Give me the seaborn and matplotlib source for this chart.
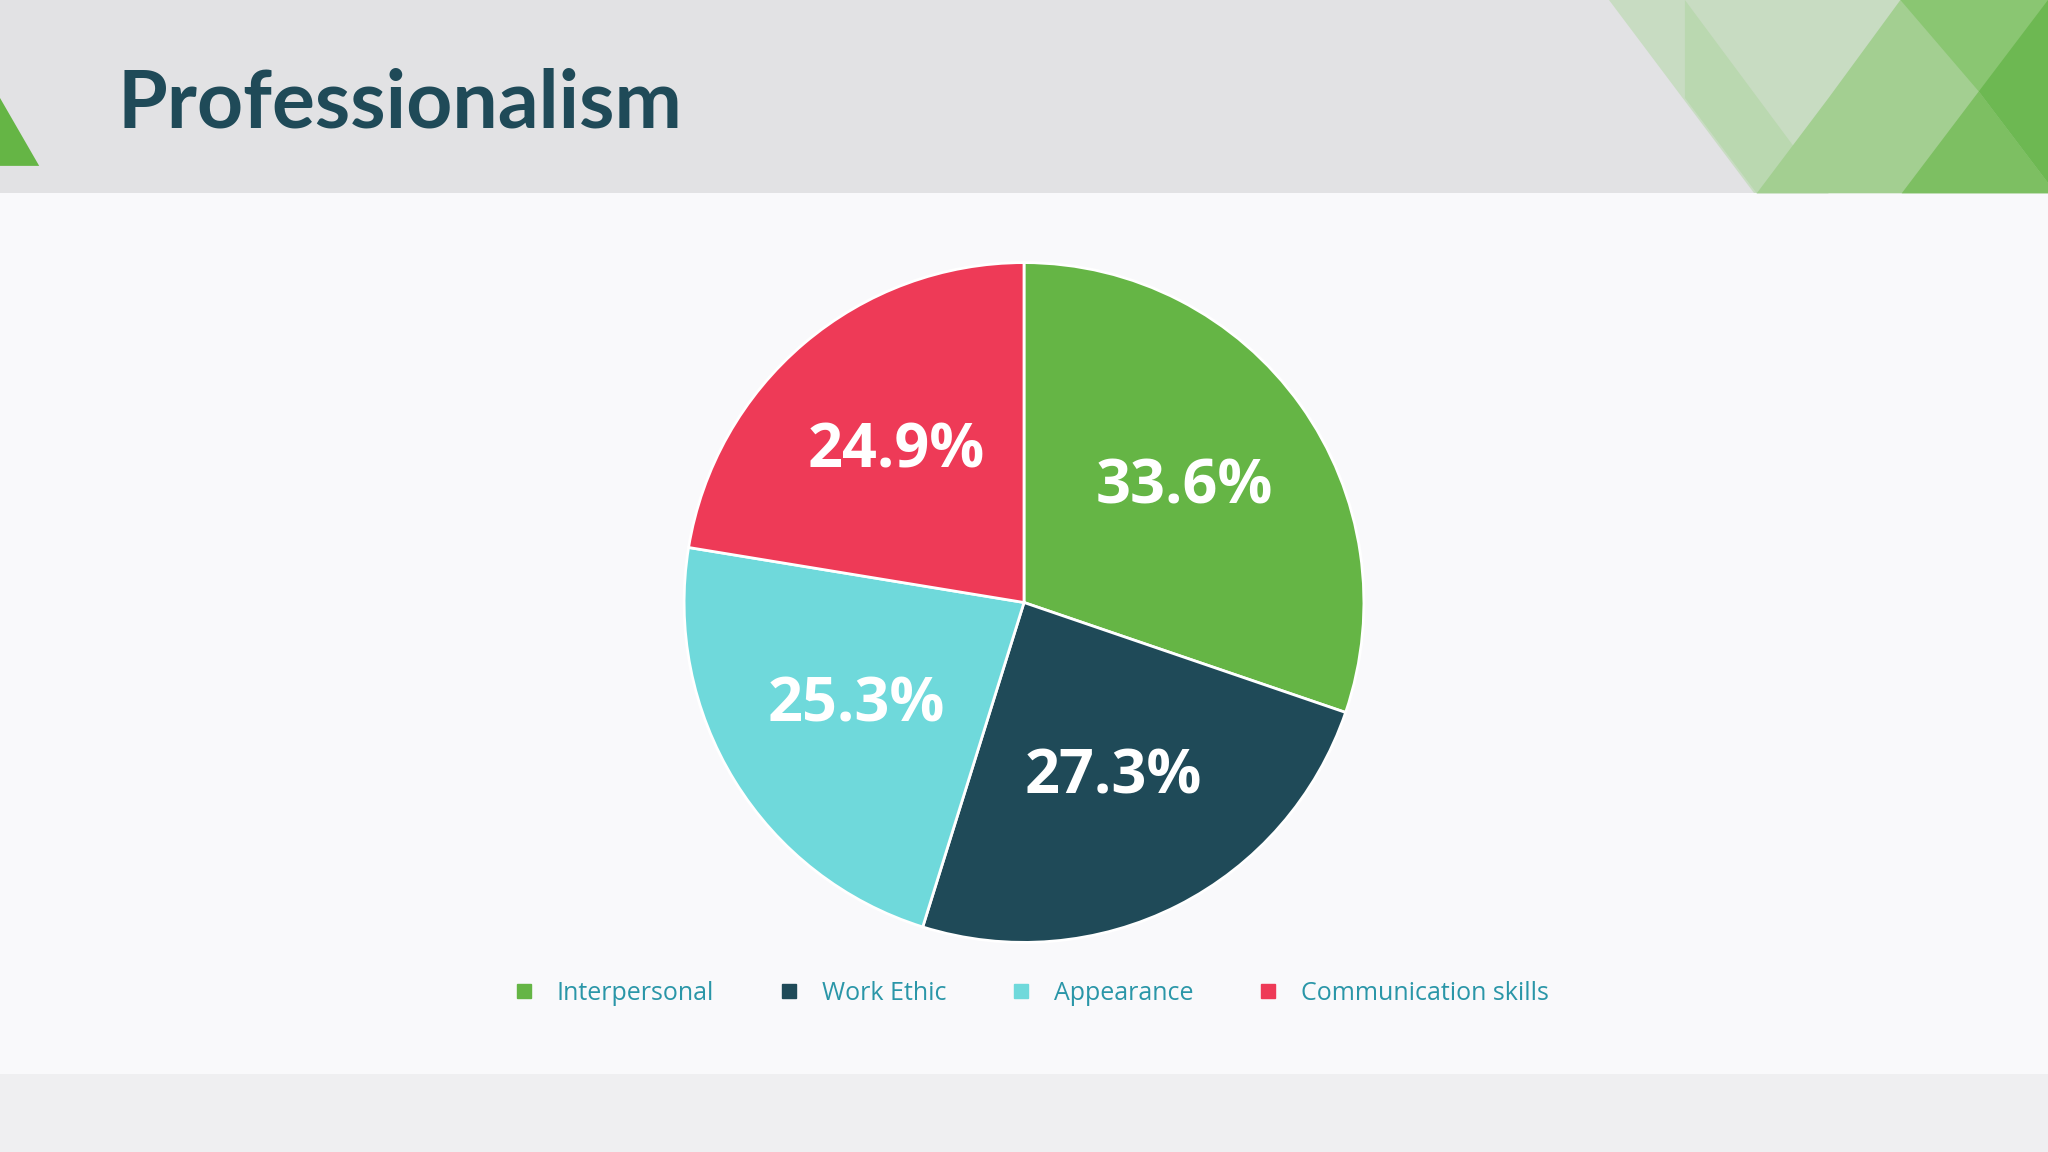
import matplotlib
matplotlib.use("Agg")
import matplotlib.pyplot as plt
from matplotlib.patches import Polygon, Rectangle
from matplotlib.lines import Line2D
import seaborn as sns

categories = ["Interpersonal", "Work Ethic", "Appearance", "Communication skills"]
values = [33.6, 27.3, 25.3, 24.9]
labels = ["33.6%", "27.3%", "25.3%", "24.9%"]
colors = ["#65b545", "#1f4a58", "#6fd9db", "#ee3a57"]

sns.set_theme(style="white")
plt.rcParams["font.family"] = ["Open Sans", "DejaVu Sans"]

fig = plt.figure(figsize=(20.48, 11.52), dpi=100)
fig.patch.set_facecolor("#f9f9fb")

# background decoration in reference-pixel coords (1568 x 882)
bg = fig.add_axes([0, 0, 1, 1])
bg.set_xlim(0, 1568)
bg.set_ylim(882, 0)
bg.axis("off")
bg.add_patch(Rectangle((0, 822), 1568, 60, color="#efeff1", lw=0))
bg.add_patch(Rectangle((0, 0), 1568, 148, color="#e2e2e4", lw=0))
bg.add_patch(Polygon([(0, 75), (30, 127), (0, 127)], color="#65b545", lw=0))
bg.add_patch(Polygon([(1232, 0), (1568, 0), (1568, 148), (1343, 148)], color="#c8dcc2", lw=0))
bg.add_patch(Polygon([(1290, 0), (1400, 148), (1345, 148), (1290, 75)], color="#bad8b0", lw=0))
bg.add_patch(Polygon([(1400, 75), (1455, 0), (1568, 0), (1568, 148), (1345, 148)], color="#a3cf91", lw=0))
bg.add_patch(Polygon([(1456, 148), (1515, 70), (1568, 140), (1568, 148)], color="#7dbf62", lw=0))
bg.add_patch(Polygon([(1455, 0), (1568, 0), (1568, 30), (1515, 70)], color="#8ac672", lw=0))
bg.add_patch(Polygon([(1515, 70), (1568, 0), (1568, 140)], color="#6db852", lw=0))
bg.text(90, 80, "Professionalism", fontsize=58, fontweight="bold",
        color="#1f4a58", va="center", ha="left", family=["Lato", "DejaVu Sans"])

ax = fig.add_axes([0.5 - 0.168, 0.477 - 0.298, 0.336, 0.596])
ax.pie(values, colors=colors, startangle=90, counterclock=False,
       labels=labels, labeldistance=0.58,
       wedgeprops=dict(edgecolor="white", linewidth=2),
       textprops=dict(color="white", fontsize=44, fontweight="bold",
                      ha="center", va="center"))
ax.set_aspect("equal")
ax.set_xlim(-1.01, 1.01)
ax.set_ylim(-1.01, 1.01)

handles = [Line2D([], [], marker="s", linestyle="", markersize=10, color=c) for c in colors]
leg = fig.legend(handles, categories, loc="center", bbox_to_anchor=(0.5, 0.138),
                 ncol=4, frameon=False, fontsize=18, handletextpad=0.3,
                 columnspacing=2.0)
for t in leg.get_texts():
    t.set_color("#2a96a8")

fig.savefig("out.png", dpi=100, facecolor=fig.get_facecolor())
